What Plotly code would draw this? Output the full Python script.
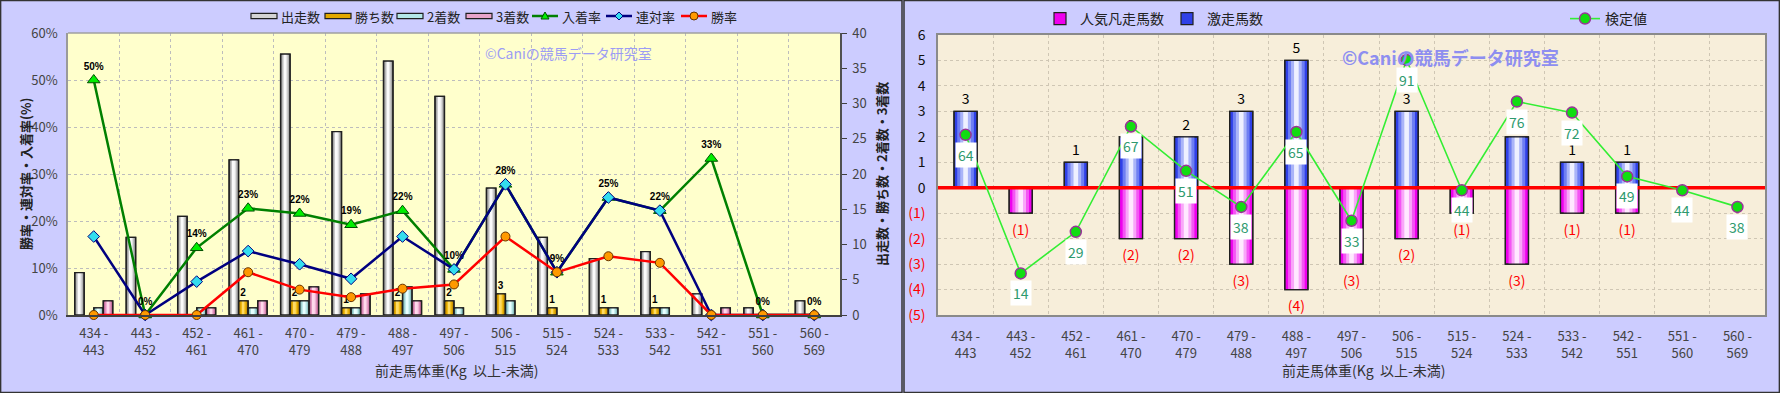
import plotly.graph_objects as go

W, H = 1780, 393
FONT = "Noto Sans CJK JP, Noto Sans, sans-serif"

# ---------------- data ----------------
tick_labels = ["434 -<br>443", "443 -<br>452", "452 -<br>461", "461 -<br>470", "470 -<br>479",
               "479 -<br>488", "488 -<br>497", "497 -<br>506", "506 -<br>515", "515 -<br>524",
               "524 -<br>533", "533 -<br>542", "542 -<br>551", "551 -<br>560", "560 -<br>569"]

# left chart (counts on right axis, rates on left axis)
runs = [6, 11, 14, 22, 37, 26, 36, 31, 18, 11, 8, 9, 3, 1, 2]
wins = [0, 0, 0, 2, 2, 1, 2, 2, 3, 1, 1, 1, 0, 0, 0]
seconds = [1, 0, 1, 1, 2, 1, 4, 1, 2, 0, 1, 1, 0, 0, 0]
thirds = [2, 0, 1, 2, 4, 3, 2, 0, 0, 0, 0, 0, 1, 0, 0]
place_rate = [50.0, 0, 14.3, 22.7, 21.6, 19.2, 22.2, 9.7, 27.8, 9.1, 25.0, 22.2, 33.3, 0, 0]
quinella_rate = [16.7, 0, 7.1, 13.6, 10.8, 7.7, 16.7, 9.7, 27.8, 9.1, 25.0, 22.2, 0, 0, 0]
win_rate = [0, 0, 0, 9.1, 5.4, 3.8, 5.6, 6.5, 16.7, 9.1, 12.5, 11.1, 0, 0, 0]
place_labels = ["50%", "0%", "14%", "23%", "22%", "19%", "22%", "10%", "28%", "9%",
                "25%", "22%", "33%", "0%", "0%"]

# right chart
surge_counts = [3, 0, 1, 2, 2, 3, 5, 0, 3, 0, 2, 1, 1, 0, 0]           # 激走馬数
flop_counts = [0, -1, 0, -2, -2, -3, -4, -3, -2, -1, -3, -1, -1, 0, 0]  # 人気凡走馬数
test_values = [64, 14, 29, 67, 51, 38, 65, 33, 91, 44, 76, 72, 49, 44, 38]  # 検定値
right_ticks = [-5, -4, -3, -2, -1, 0, 1, 2, 3, 4, 5, 6]

positions = list(range(len(tick_labels)))

fig = go.Figure()


def add_layered_bar(x, y, xaxis, yaxis, center, width, colors, name, legend=None,
                    texts=None, textfont=None, showlegend=True):
    yy = [v if v != 0 else None for v in y]
    fracs = [1.0, 0.72, 0.46, 0.2]
    for k, (f, c) in enumerate(zip(fracs, colors)):
        w = width * f
        kw = dict(legend=legend) if legend else {}
        fig.add_trace(go.Bar(
            x=x, y=yy, xaxis=xaxis, yaxis=yaxis, width=w, offset=center - w / 2,
            marker=dict(color=c, line=dict(color="#202020", width=1.2 if k == 0 else 0)),
            name=name, showlegend=(showlegend and k == 0), legendgroup=name,
            hoverinfo="skip", **kw))
    fig.add_trace(go.Bar(
        x=x, y=yy, xaxis=xaxis, yaxis=yaxis, width=width, offset=center - width / 2,
        marker=dict(color="rgba(0,0,0,0)", line=dict(color="#202020", width=1.3)),
        text=texts, textposition="outside" if texts else "none", textfont=textfont,
        constraintext="none", cliponaxis=False, showlegend=False,
        hoverinfo="skip"))


# ---------------- left chart ----------------
bw = 0.185
lbl_font = dict(size=10, color="#000000", family="Liberation Sans, Arial", weight="bold")
left_series = [
    ("出走数", runs, ["#8A8A8A", "#B8B8B8", "#DEDEDE", "#FAFAFA"]),
    ("勝ち数", wins, ["#B07C00", "#D9A000", "#F2BF1A", "#FFDB66"]),
    ("2着数", seconds, ["#6FA8A8", "#9ED0D0", "#C6EEEE", "#E8FFFF"]),
    ("3着数", thirds, ["#B45C8C", "#DB8AB6", "#F0B2D4", "#FFD9EC"]),
]
for i, (nm, vals, cols) in enumerate(left_series):
    add_layered_bar(tick_labels, vals, "x", "y", (i - 1.5) * bw, bw, cols, nm,
                    texts=[str(v) if v else "" for v in vals] if nm == "勝ち数" else None,
                    textfont=lbl_font, showlegend=False)

line_series = [
    ("入着率", place_rate, "#008000", dict(symbol="triangle-up", size=11, color="#00EE00",
                                          line=dict(color="#005000", width=1))),
    ("連対率", quinella_rate, "#000080", dict(symbol="diamond", size=9, color="#33DDEE",
                                             line=dict(color="#000080", width=1))),
    ("勝率", win_rate, "#FF0000", dict(symbol="circle", size=9, color="#FF9900",
                                       line=dict(color="#663300", width=1))),
]
for nm, vals, col, mk in line_series:
    is_place = nm == "入着率"
    fig.add_trace(go.Scatter(
        x=tick_labels, y=vals, xaxis="x", yaxis="y2", name=nm, showlegend=False,
        mode="lines+markers+text" if is_place else "lines+markers",
        text=place_labels if is_place else None, textposition="top center",
        textfont=lbl_font, cliponaxis=False, line=dict(color=col, width=2.5), marker=mk,
        hoverinfo="skip"))

# ---------------- right chart ----------------
rw = 0.42
add_layered_bar(positions, flop_counts, "x2", "y3", 0, rw,
                ["#EE00EE", "#F455F4", "#F9A6F9", "#FFE8FF"], "人気凡走馬数", "legend2")
add_layered_bar(positions, surge_counts, "x2", "y3", 0, rw,
                ["#2F40E8", "#6E7EF2", "#AAB4F8", "#EEF0FF"], "激走馬数", "legend2")

# zero reference line (spans the whole axis range)
fig.add_trace(go.Scatter(
    x=[-0.5, 14.5], y=[0, 0], xaxis="x2", yaxis="y3", mode="lines",
    line=dict(color="#FF0000", width=3.5), showlegend=False, hoverinfo="skip", cliponaxis=False))

# count labels (above positive bars, below negative bars)
fig.add_trace(go.Scatter(
    x=positions, y=[v if v > 0 else None for v in surge_counts], xaxis="x2", yaxis="y3",
    mode="markers+text", text=[str(v) for v in surge_counts], textposition="top center",
    marker=dict(size=4, opacity=0), textfont=dict(size=14, color="#000000"),
    showlegend=False, hoverinfo="skip", cliponaxis=False))
fig.add_trace(go.Scatter(
    x=positions, y=[v if v < 0 else None for v in flop_counts], xaxis="x2", yaxis="y3",
    mode="markers+text", text=[f"({-v})" for v in flop_counts], textposition="bottom center",
    marker=dict(size=16, opacity=0), textfont=dict(size=14, color="#FF0000"),
    showlegend=False, hoverinfo="skip", cliponaxis=False))

fig.add_trace(go.Scatter(
    x=positions, y=test_values, xaxis="x2", yaxis="y4", name="検定値", legend="legend3",
    mode="lines+markers", cliponaxis=False,
    line=dict(color="#33EE33", width=1.6),
    marker=dict(symbol="circle", size=11, color="#11DD11", line=dict(color="#993399", width=1.5)),
    hoverinfo="skip"))

annotations = []
for p, v in zip(positions, test_values):
    annotations.append(dict(
        x=p, y=v, xref="x2", yref="y4", text=str(v), showarrow=False, yshift=-20,
        bgcolor="#FFFFFF", borderpad=2, font=dict(size=14, color="#2E9A6E", family=FONT)))


def px(xp):
    return xp / W


def py(yp):
    return 1 - yp / H


# titles and watermarks
annotations += [
    dict(x=px(25), y=py(174), xref="paper", yref="paper", text="勝率・連対率・入着率(%)",
         xanchor="center", yanchor="middle",
         textangle=-90, showarrow=False, font=dict(size=13, color="#222222", weight="bold")),
    dict(x=px(881), y=py(174), xref="paper", yref="paper", text="出走数・勝ち数・2着数・3着数",
         xanchor="center", yanchor="middle",
         textangle=-90, showarrow=False, font=dict(size=13, color="#222222", weight="bold")),
    dict(x=px(457), y=py(370), xref="paper", yref="paper", text="前走馬体重(Kg  以上-未満)",
         xanchor="center", yanchor="middle",
         showarrow=False, font=dict(size=14, color="#333333")),
    dict(x=px(1364), y=py(370), xref="paper", yref="paper", text="前走馬体重(Kg  以上-未満)",
         xanchor="center", yanchor="middle",
         showarrow=False, font=dict(size=14, color="#333333")),
    dict(x=px(483), y=py(53), xref="paper", yref="paper", xanchor="left", yanchor="middle",
         text="©Caniの競馬データ研究室", showarrow=False,
         font=dict(size=14, color="#9C9CF4")),
    dict(x=px(1340), y=py(57), xref="paper", yref="paper", xanchor="left", yanchor="middle",
         text="©Caniの競馬データ研究室", showarrow=False,
         font=dict(size=18, color="#8E8EF0", weight="bold")),
]

# ---- panel frames, plot-area fills and the legend of the left chart ----
shapes = [
    dict(type="rect", xref="x2 domain", yref="y3 domain", x0=0, x1=1, y0=0, y1=1,
         fillcolor="#F7EEDA", line=dict(width=0), layer="below"),
    dict(type="line", xref="x domain", yref="y domain", x0=0, x1=1, y0=1, y1=1,
         line=dict(color="#A0A0A0", width=1.5), layer="above"),
    dict(type="rect", xref="paper", yref="paper", x0=px(0.6), x1=px(902), y0=0.6 / H,
         y1=py(0.6), line=dict(color="#333333", width=1.5), layer="above"),
    dict(type="rect", xref="paper", yref="paper", x0=px(904), x1=px(1779.4), y0=0.6 / H,
         y1=py(0.6), line=dict(color="#333333", width=1.5), layer="above"),
]
leg_y = 16
leg_x = [251, 325, 397, 466, 532, 606, 681]
sw = 26
swatch_fill = ["#D4D4D4", "#E2A800", "#B4E8E8", "#E8A4CA"]
for i, (nm, _, cols) in enumerate(left_series):
    x0 = leg_x[i]
    shapes.append(dict(type="rect", xref="paper", yref="paper", x0=px(x0), x1=px(x0 + sw),
                       y0=py(leg_y + 2.7), y1=py(leg_y - 2.7), fillcolor=swatch_fill[i],
                       line=dict(color="#202020", width=1.2), layer="above"))
    annotations.append(dict(x=px(x0 + sw + 2), y=py(leg_y), xref="paper", yref="paper",
                            xanchor="left", yanchor="middle", text=nm, showarrow=False,
                            font=dict(size=13, color="#222222")))
for j, (nm, _, col, mk) in enumerate(line_series):
    x0 = leg_x[4 + j]
    cx = x0 + sw / 2
    shapes.append(dict(type="line", xref="paper", yref="paper", x0=px(x0), x1=px(x0 + sw),
                       y0=py(leg_y), y1=py(leg_y), line=dict(color=col, width=2.5),
                       layer="above"))
    if mk["symbol"] == "triangle-up":
        path = (f"M{px(cx)},{py(leg_y - 4)} L{px(cx + 4)},{py(leg_y + 3)} "
                f"L{px(cx - 4)},{py(leg_y + 3)} Z")
        shapes.append(dict(type="path", xref="paper", yref="paper", path=path,
                           fillcolor=mk["color"], line=dict(color=mk["line"]["color"], width=1),
                           layer="above"))
    elif mk["symbol"] == "diamond":
        path = (f"M{px(cx)},{py(leg_y - 4)} L{px(cx + 4)},{py(leg_y)} "
                f"L{px(cx)},{py(leg_y + 4)} L{px(cx - 4)},{py(leg_y)} Z")
        shapes.append(dict(type="path", xref="paper", yref="paper", path=path,
                           fillcolor=mk["color"], line=dict(color=mk["line"]["color"], width=1),
                           layer="above"))
    else:
        shapes.append(dict(type="circle", xref="paper", yref="paper", x0=px(cx - 4),
                           x1=px(cx + 4), y0=py(leg_y + 4), y1=py(leg_y - 4),
                           fillcolor=mk["color"], line=dict(color=mk["line"]["color"], width=1),
                           layer="above"))
    annotations.append(dict(x=px(x0 + sw + 2), y=py(leg_y), xref="paper", yref="paper",
                            xanchor="left", yanchor="middle", text=nm, showarrow=False,
                            font=dict(size=13, color="#222222")))

ytick_text = [f'<span style="color:#FF0000">({-t})</span>' if t < 0 else str(t) for t in right_ticks]

grid_l = "#BDBDBD"
grid_r = "#CFC6B4"
tickfont = dict(size=13, color="#444444", family=FONT)

fig.update_layout(
    width=W, height=H, margin=dict(l=0, r=0, t=0, b=0, pad=0, autoexpand=False),
    paper_bgcolor="#CCCCFF", plot_bgcolor="#FFFFCC",
    barmode="overlay", hovermode=False,
    font=dict(family=FONT, size=13, color="#333333"),
    xaxis=dict(domain=[px(68), px(840)], anchor="y", type="category", tickson="boundaries",
               showgrid=True, gridcolor=grid_l, griddash="dot", ticks="", showline=True,
               linecolor="#404040", linewidth=1.5, tickfont=tickfont, ticklabelstandoff=6,
               range=[-0.5, 14.5]),
    yaxis=dict(domain=[78 / H, 360 / H], anchor="x", side="right", range=[0, 40], dtick=5,
               ticks="outside", ticklen=5, tickcolor="#404040", showgrid=False, showline=True,
               linecolor="#505050", linewidth=1.5, zeroline=False, tickfont=tickfont,
               ticklabelstandoff=3),
    yaxis2=dict(overlaying="y", anchor="x", side="left", range=[0, 60], dtick=10, ticksuffix="%",
                showgrid=True, gridcolor=grid_l, griddash="dot", showline=True,
                linecolor="#9A9A9A", linewidth=1.5, zeroline=False, ticks="",
                tickfont=tickfont, ticklabelstandoff=6),
    xaxis2=dict(domain=[px(938), px(1765)], anchor="y3", range=[-0.5, 14.5],
                tickvals=positions, ticktext=tick_labels, showgrid=False, ticks="",
                minor=dict(tickvals=[p + 0.5 for p in positions[:-1]], showgrid=True,
                           gridcolor=grid_r, griddash="dot", ticks=""),
                showline=True, mirror=True, linecolor="#8A8A8A", linewidth=1.5,
                zeroline=False, tickfont=tickfont, ticklabelstandoff=9),
    yaxis3=dict(domain=[78 / H, 358 / H], anchor="x2", range=[-5, 6], tickvals=right_ticks,
                ticktext=ytick_text, showgrid=True, gridcolor=grid_r, griddash="dot",
                zeroline=False, showline=True, mirror=True, linecolor="#8A8A8A", linewidth=1.5,
                ticks="", tickfont=dict(size=14, color="#111111", family=FONT),
                ticklabelstandoff=8),
    yaxis4=dict(overlaying="y3", anchor="x2", range=[-1, 100], visible=False),
    legend2=dict(orientation="h", x=px(1040), y=py(3), xanchor="left", yanchor="top",
                 bgcolor="rgba(0,0,0,0)", font=dict(size=14, color="#222222"),
                 entrywidth=82, entrywidthmode="pixels", itemwidth=30),
    legend3=dict(orientation="h", x=px(1565), y=py(3), xanchor="left", yanchor="top",
                 bgcolor="rgba(0,0,0,0)", font=dict(size=14, color="#222222"), itemwidth=30),
    annotations=annotations,
    shapes=shapes,
)

fig.write_html("out.html", config={"displayModeBar": False},
               post_script="document.body.style.margin='0';document.body.style.overflow='hidden';")
